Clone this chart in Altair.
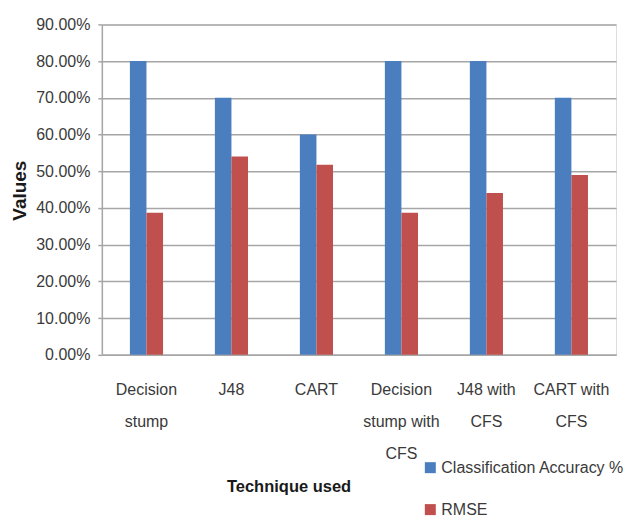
import altair as alt
import pandas as pd

categories = ["Decision\nstump", "J48", "CART", "Decision\nstump with\nCFS", "J48 with\nCFS", "CART with\nCFS"]
accuracy = [0.80, 0.70, 0.60, 0.80, 0.80, 0.70]
rmse = [0.387, 0.540, 0.518, 0.387, 0.441, 0.490]
series = ["Classification Accuracy %", "RMSE"]
colors = ["#4A7EBF", "#C0504D"]
y_ticks = [0.0, 0.1, 0.2, 0.3, 0.4, 0.5, 0.6, 0.7, 0.8, 0.9]

rows = []
for c, a, r in zip(categories, accuracy, rmse):
    rows.append({"Technique": c, "Series": series[0], "Value": a})
    rows.append({"Technique": c, "Series": series[1], "Value": r})
df = pd.DataFrame(rows)

FONT = "Liberation Sans, Arial, sans-serif"

chart = alt.Chart(df).mark_bar().encode(
    x=alt.X("Technique:N", sort=categories,
            scale=alt.Scale(paddingInner=0.61, paddingOuter=0.33),
            axis=alt.Axis(title="Technique used", labelAngle=0, tickSize=0,
                          labelExpr="split(datum.label, '\\n')",
                          labelLineHeight=32, labelPadding=27, labelBaseline="top",
                          labelFontSize=16, labelFont=FONT, labelColor="#3a3a3a",
                          labelOverlap=False, labelLimit=200,
                          domainColor="#a6a6a6", domainWidth=1.5,
                          titleFont=FONT, titleFontSize=16.5, titleFontWeight="bold",
                          titleColor="#1a1a1a", titleX=187, titleY=132,
                          titleAlign="center", titleBaseline="middle", titleAnchor="start")),
    xOffset=alt.XOffset("Series:N", sort=series),
    y=alt.Y("Value:Q", scale=alt.Scale(domain=[0, 0.9], nice=False),
            axis=alt.Axis(title="Values", values=y_ticks, format=".2%",
                          tickSize=4, tickColor="#a6a6a6", tickWidth=1.5,
                          labelPadding=8, labelFontSize=16, labelFont=FONT,
                          labelColor="#3a3a3a",
                          gridColor="#a6a6a6", gridWidth=1.5,
                          domainColor="#a6a6a6", domainWidth=1.5,
                          titleFont=FONT, titleFontSize=19, titleFontWeight="bold",
                          titleColor="#1a1a1a", titleX=-82, titleY=166, titleAngle=270,
                          titleAlign="center", titleBaseline="middle", titleAnchor="start")),
    color=alt.Color("Series:N", sort=series,
                    scale=alt.Scale(domain=series, range=colors),
                    legend=alt.Legend(title=None, orient="none", legendX=321, legendY=436,
                                      symbolType="square", symbolSize=121,
                                      symbolStrokeWidth=0, labelFont=FONT,
                                      labelFontSize=16, labelColor="#3a3a3a",
                                      labelLimit=300,
                                      rowPadding=26, labelOffset=3, padding=0)),
).properties(
    width=515, height=331,
    autosize=alt.AutoSizeParams(type="none"),
    padding={"left": 94, "top": 16, "right": 10, "bottom": 162},
).configure_view(stroke=None).configure(background="white")

chart.save("out.html", embed_options={"renderer": "svg", "actions": False})
